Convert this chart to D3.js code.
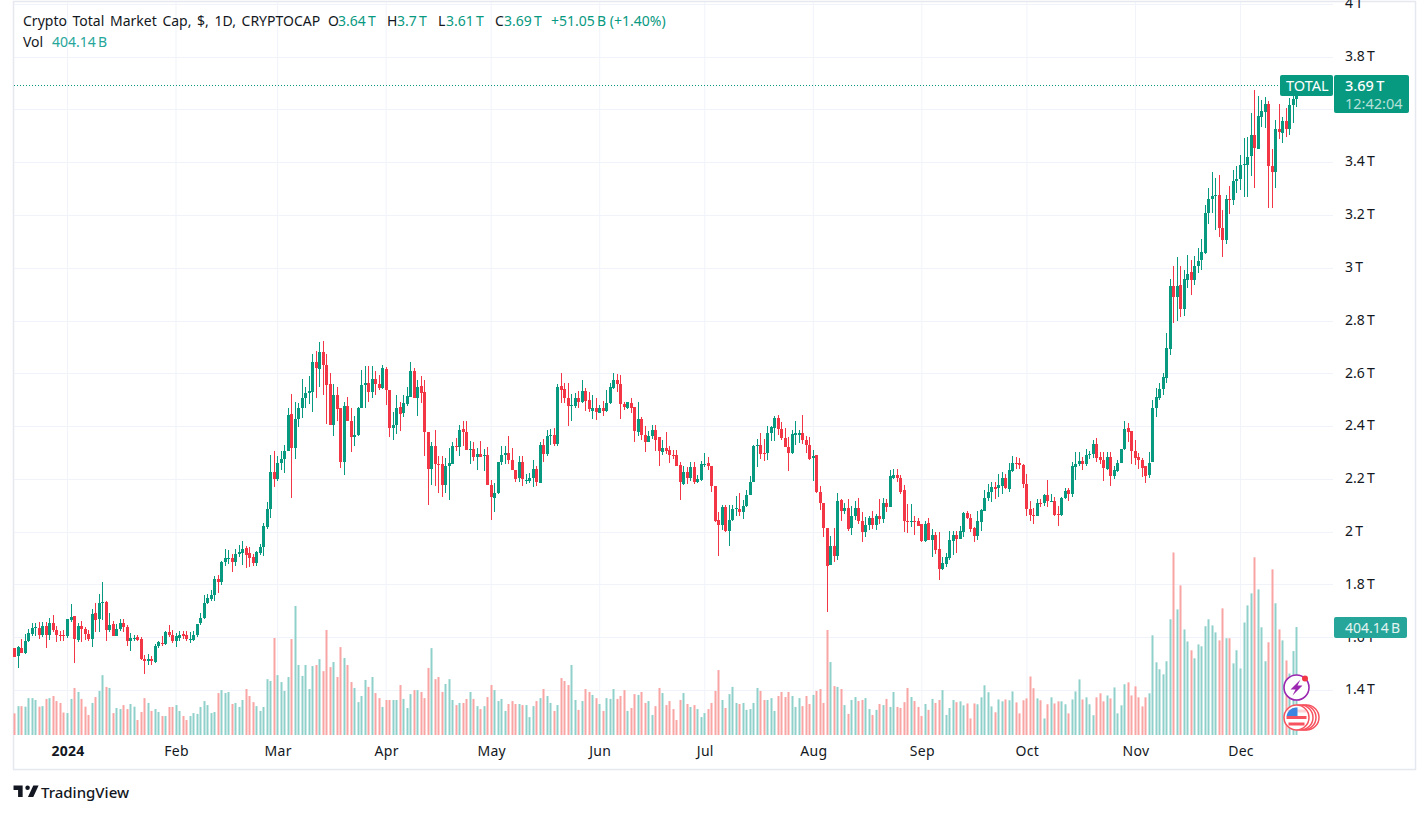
<!DOCTYPE html>
<html>
<head>
<meta charset="utf-8">
<title>Crypto Total Market Cap</title>
<script src="https://cdnjs.cloudflare.com/ajax/libs/d3/7.8.5/d3.min.js"></script>
<style>
html, body { margin: 0; padding: 0; background: #fff; }
svg { display: block; font-family: "Noto Sans", sans-serif; }
</style>
</head>
<body>
<div id="chart"></div>
<script>
// daily candles in trillions, first one is 2023-12-17
var opens = [
1.560,1.527,1.560,1.539,1.587,1.613,1.634,1.635,1.610,1.644,
1.610,1.654,1.628,1.610,1.610,1.603,1.667,1.681,1.591,1.643,
1.633,1.613,1.595,1.692,1.668,1.730,1.734,1.629,1.650,1.603,
1.630,1.654,1.639,1.586,1.592,1.599,1.592,1.517,1.509,1.518,
1.507,1.565,1.579,1.575,1.620,1.608,1.585,1.597,1.611,1.608,
1.589,1.590,1.608,1.653,1.671,1.729,1.745,1.759,1.820,1.811,
1.885,1.898,1.900,1.886,1.914,1.920,1.938,1.918,1.904,1.881,
1.920,1.943,2.016,2.084,2.227,2.201,2.260,2.275,2.304,2.447,
2.317,2.426,2.467,2.506,2.525,2.531,2.643,2.618,2.681,2.632,
2.560,2.406,2.516,2.469,2.263,2.477,2.420,2.357,2.365,2.467,
2.554,2.564,2.530,2.579,2.559,2.546,2.617,2.537,2.391,2.403,
2.472,2.449,2.484,2.512,2.607,2.508,2.553,2.530,2.379,2.237,
2.326,2.256,2.256,2.178,2.250,2.258,2.326,2.319,2.390,2.377,
2.308,2.314,2.281,2.294,2.289,2.292,2.178,2.128,2.147,2.263,
2.290,2.299,2.273,2.235,2.202,2.265,2.191,2.191,2.202,2.239,
2.184,2.329,2.294,2.363,2.367,2.333,2.553,2.541,2.508,2.478,
2.478,2.508,2.490,2.534,2.500,2.459,2.469,2.450,2.469,2.458,
2.486,2.545,2.575,2.560,2.484,2.469,2.487,2.471,2.379,2.428,
2.367,2.339,2.362,2.386,2.357,2.303,2.318,2.310,2.292,2.292,
2.254,2.179,2.227,2.202,2.244,2.189,2.196,2.254,2.261,2.250,
2.174,2.046,2.024,2.095,2.002,2.043,2.086,2.087,2.073,2.096,
2.138,2.189,2.326,2.329,2.299,2.297,2.374,2.394,2.432,2.389,
2.356,2.321,2.297,2.367,2.366,2.375,2.348,2.329,2.278,2.289,
2.152,2.110,2.012,1.873,1.944,1.907,2.121,2.078,2.089,2.012,
2.060,2.088,2.042,1.997,2.025,2.050,2.025,2.060,2.047,2.108,
2.093,2.205,2.216,2.205,2.156,2.042,2.040,2.041,2.040,2.030,
1.963,2.031,1.969,1.987,1.936,1.858,1.877,1.900,1.964,1.989,
1.972,1.998,2.070,2.052,2.012,1.983,2.037,2.080,2.127,2.150,
2.171,2.165,2.174,2.205,2.163,2.229,2.262,2.259,2.254,2.179,
2.087,2.065,2.061,2.110,2.109,2.137,2.116,2.118,2.068,2.063,
2.127,2.156,2.143,2.244,2.255,2.269,2.255,2.293,2.295,2.334,
2.281,2.272,2.239,2.281,2.210,2.229,2.261,2.312,2.393,2.383,
2.305,2.284,2.273,2.247,2.214,2.263,2.469,2.508,2.539,2.584,
2.693,2.930,2.891,2.934,2.843,2.954,2.983,2.955,3.005,3.028,
3.056,3.206,3.260,3.271,3.276,3.152,3.106,3.261,3.256,3.328,
3.336,3.390,3.391,3.424,3.503,3.450,3.573,3.592,3.622,3.386,
3.362,3.526,3.512,3.556,3.527,3.616,3.64];
var highs = [
1.560,1.568,1.592,1.613,1.633,1.654,1.653,1.658,1.658,1.658,
1.672,1.684,1.643,1.625,1.628,1.669,1.726,1.681,1.653,1.661,
1.638,1.628,1.706,1.729,1.764,1.808,1.737,1.691,1.662,1.650,
1.668,1.668,1.647,1.615,1.608,1.609,1.600,1.533,1.537,1.529,
1.575,1.586,1.605,1.624,1.647,1.628,1.615,1.623,1.623,1.625,
1.621,1.623,1.650,1.692,1.761,1.764,1.779,1.832,1.837,1.890,
1.933,1.930,1.915,1.935,1.951,1.964,1.945,1.941,1.917,1.925,
1.953,2.031,2.114,2.291,2.307,2.288,2.304,2.329,2.468,2.522,
2.490,2.487,2.579,2.550,2.588,2.674,2.686,2.717,2.724,2.674,
2.600,2.560,2.550,2.469,2.490,2.512,2.468,2.439,2.472,2.611,
2.628,2.626,2.626,2.607,2.594,2.630,2.623,2.537,2.453,2.519,
2.493,2.519,2.548,2.642,2.622,2.573,2.588,2.575,2.379,2.338,
2.384,2.288,2.288,2.279,2.317,2.338,2.355,2.405,2.421,2.421,
2.342,2.338,2.317,2.342,2.313,2.321,2.197,2.184,2.265,2.323,
2.323,2.363,2.317,2.235,2.285,2.288,2.220,2.222,2.270,2.250,
2.338,2.351,2.386,2.389,2.392,2.560,2.603,2.565,2.565,2.522,
2.525,2.534,2.575,2.544,2.531,2.519,2.508,2.481,2.496,2.537,
2.565,2.603,2.598,2.594,2.491,2.493,2.508,2.471,2.490,2.434,
2.399,2.380,2.403,2.405,2.357,2.348,2.376,2.326,2.308,2.308,
2.263,2.250,2.245,2.264,2.263,2.216,2.266,2.298,2.284,2.250,
2.174,2.073,2.102,2.102,2.102,2.102,2.136,2.147,2.121,2.159,
2.212,2.329,2.351,2.374,2.351,2.401,2.401,2.439,2.443,2.415,
2.392,2.358,2.384,2.420,2.384,2.443,2.361,2.358,2.308,2.292,
2.174,2.110,2.012,1.985,2.012,2.147,2.124,2.109,2.124,2.099,
2.118,2.128,2.074,2.055,2.061,2.080,2.068,2.122,2.128,2.124,
2.235,2.239,2.239,2.213,2.175,2.105,2.103,2.061,2.052,2.030,
2.040,2.052,2.011,1.998,1.999,1.904,1.920,2.002,2.002,2.002,
2.020,2.074,2.078,2.068,2.017,2.078,2.084,2.158,2.181,2.187,
2.187,2.219,2.225,2.219,2.261,2.286,2.282,2.279,2.257,2.219,
2.118,2.090,2.124,2.124,2.143,2.194,2.143,2.133,2.099,2.131,
2.166,2.166,2.263,2.301,2.301,2.282,2.313,2.307,2.348,2.355,
2.301,2.301,2.301,2.301,2.247,2.272,2.315,2.421,2.412,2.383,
2.349,2.297,2.279,2.247,2.301,2.499,2.543,2.565,2.603,2.754,
2.956,3.006,3.039,3.005,2.993,3.048,3.029,3.043,3.075,3.109,
3.239,3.302,3.361,3.339,3.352,3.220,3.276,3.308,3.371,3.386,
3.428,3.493,3.497,3.588,3.674,3.651,3.636,3.648,3.630,3.449,
3.558,3.621,3.570,3.604,3.642,3.674,3.70];
var lows = [
1.524,1.485,1.539,1.536,1.582,1.603,1.603,1.595,1.600,1.560,
1.589,1.620,1.580,1.585,1.587,1.597,1.659,1.504,1.582,1.581,
1.589,1.586,1.562,1.620,1.620,1.666,1.587,1.621,1.603,1.603,
1.624,1.621,1.565,1.547,1.586,1.586,1.514,1.459,1.493,1.493,
1.504,1.558,1.567,1.572,1.600,1.577,1.562,1.587,1.595,1.586,
1.577,1.587,1.600,1.647,1.669,1.724,1.737,1.739,1.769,1.798,
1.870,1.877,1.848,1.871,1.905,1.874,1.864,1.867,1.870,1.870,
1.911,1.908,2.011,2.051,2.168,2.191,2.232,2.222,2.304,2.128,
2.275,2.396,2.430,2.468,2.484,2.455,2.508,2.550,2.517,2.409,
2.406,2.361,2.421,2.240,2.213,2.418,2.300,2.326,2.361,2.467,
2.467,2.493,2.507,2.519,2.537,2.540,2.481,2.357,2.346,2.371,
2.380,2.434,2.477,2.510,2.508,2.439,2.487,2.285,2.100,2.176,
2.172,2.147,2.130,2.147,2.119,2.258,2.304,2.285,2.323,2.308,
2.256,2.266,2.235,2.283,2.228,2.176,2.043,2.073,2.144,2.254,
2.256,2.256,2.235,2.187,2.187,2.172,2.182,2.184,2.169,2.172,
2.184,2.263,2.285,2.329,2.323,2.323,2.487,2.487,2.399,2.418,
2.468,2.468,2.487,2.459,2.455,2.428,2.424,2.449,2.440,2.455,
2.484,2.540,2.531,2.428,2.462,2.464,2.449,2.338,2.361,2.348,
2.300,2.338,2.352,2.304,2.247,2.289,2.293,2.260,2.275,2.247,
2.119,2.177,2.182,2.191,2.182,2.184,2.191,2.245,2.235,2.149,
2.038,1.907,2.008,1.998,1.945,2.041,2.058,2.058,2.048,2.094,
2.138,2.187,2.244,2.275,2.266,2.273,2.342,2.342,2.367,2.348,
2.319,2.229,2.295,2.329,2.336,2.333,2.298,2.273,2.191,2.147,
2.081,1.979,1.695,1.873,1.885,1.894,2.040,2.068,2.002,1.987,
2.045,2.030,1.960,1.979,2.007,2.011,2.005,2.030,2.032,2.074,
2.093,2.200,2.187,2.143,1.998,1.994,2.017,1.987,2.020,1.962,
1.960,1.967,1.904,1.914,1.818,1.853,1.866,1.891,1.910,1.919,
1.972,1.979,2.049,1.998,1.960,1.967,2.002,2.078,2.118,2.112,
2.124,2.133,2.143,2.162,2.150,2.225,2.238,2.238,2.165,2.061,
2.040,2.030,2.058,2.093,2.098,2.095,2.114,2.059,2.020,2.058,
2.124,2.118,2.131,2.196,2.250,2.232,2.250,2.276,2.279,2.263,
2.257,2.191,2.232,2.172,2.200,2.225,2.259,2.310,2.339,2.257,
2.254,2.238,2.206,2.185,2.204,2.263,2.436,2.499,2.518,2.565,
2.669,2.792,2.799,2.813,2.817,2.925,2.896,2.934,2.98,2.993,
3.053,3.167,3.207,3.144,3.115,3.041,3.089,3.205,3.239,3.283,
3.295,3.268,3.268,3.346,3.302,3.450,3.535,3.529,3.226,3.226,
3.304,3.487,3.472,3.495,3.503,3.550,3.61];
var closes = [
1.524,1.563,1.542,1.586,1.615,1.635,1.639,1.610,1.644,1.610,
1.654,1.628,1.608,1.608,1.608,1.669,1.677,1.595,1.643,1.633,
1.613,1.595,1.688,1.666,1.730,1.734,1.629,1.645,1.603,1.633,
1.654,1.638,1.586,1.597,1.597,1.589,1.517,1.509,1.517,1.509,
1.567,1.581,1.576,1.620,1.608,1.585,1.603,1.608,1.603,1.594,
1.594,1.608,1.650,1.673,1.730,1.748,1.759,1.820,1.811,1.885,
1.900,1.900,1.886,1.914,1.923,1.933,1.913,1.901,1.882,1.923,
1.940,2.020,2.084,2.225,2.201,2.261,2.275,2.307,2.443,2.317,
2.426,2.469,2.507,2.526,2.534,2.643,2.619,2.681,2.632,2.556,
2.406,2.516,2.464,2.263,2.478,2.418,2.357,2.367,2.468,2.556,
2.564,2.531,2.579,2.559,2.546,2.622,2.536,2.391,2.405,2.468,
2.445,2.487,2.515,2.607,2.508,2.550,2.527,2.377,2.237,2.326,
2.256,2.255,2.178,2.250,2.260,2.326,2.319,2.384,2.377,2.308,
2.314,2.281,2.294,2.283,2.292,2.176,2.130,2.148,2.265,2.292,
2.299,2.270,2.235,2.201,2.265,2.201,2.194,2.203,2.237,2.187,
2.329,2.294,2.363,2.367,2.333,2.550,2.537,2.506,2.478,2.481,
2.508,2.490,2.534,2.496,2.466,2.469,2.452,2.469,2.459,2.488,
2.548,2.575,2.559,2.482,2.471,2.490,2.467,2.380,2.428,2.366,
2.341,2.363,2.386,2.346,2.304,2.318,2.307,2.289,2.289,2.250,
2.187,2.227,2.203,2.244,2.188,2.200,2.258,2.258,2.247,2.172,
2.041,2.024,2.095,2.002,2.046,2.087,2.089,2.073,2.099,2.140,
2.189,2.326,2.328,2.295,2.297,2.374,2.396,2.430,2.389,2.353,
2.319,2.297,2.371,2.372,2.375,2.347,2.328,2.276,2.288,2.149,
2.107,2.014,1.869,1.944,1.907,2.118,2.078,2.089,2.010,2.061,
2.088,2.040,1.997,2.027,2.050,2.025,2.060,2.047,2.108,2.093,
2.209,2.216,2.203,2.152,2.040,2.040,2.042,2.036,2.023,1.963,
2.030,1.969,1.987,1.930,1.858,1.880,1.904,1.967,1.989,1.972,
2.001,2.070,2.052,2.010,1.983,2.040,2.081,2.128,2.152,2.171,
2.162,2.176,2.205,2.165,2.232,2.262,2.259,2.254,2.180,2.085,
2.063,2.061,2.109,2.108,2.137,2.116,2.118,2.065,2.063,2.128,
2.153,2.142,2.247,2.257,2.269,2.257,2.292,2.296,2.334,2.279,
2.272,2.240,2.281,2.210,2.233,2.262,2.315,2.390,2.377,2.305,
2.279,2.271,2.243,2.211,2.262,2.468,2.510,2.541,2.587,2.695,
2.930,2.891,2.930,2.845,2.956,2.978,2.953,3.008,3.027,3.058,
3.208,3.261,3.273,3.276,3.150,3.107,3.261,3.256,3.329,3.337,
3.390,3.394,3.420,3.503,3.452,3.575,3.594,3.621,3.387,3.362,
3.526,3.513,3.556,3.527,3.617,3.638,3.69];
// volume in billions
var volumes = [
81,108,108,106,138,138,131,106,108,135,
138,146,127,120,84,82,135,176,161,135,
106,75,120,142,165,224,180,176,82,101,
97,112,97,116,106,56,86,138,120,90,
97,86,71,71,105,105,112,90,71,56,
71,82,79,105,127,112,82,86,157,168,
157,161,116,120,105,131,172,146,123,108,
90,105,209,202,363,224,198,165,217,359,
483,262,221,262,172,258,262,284,239,393,
254,273,217,329,288,262,198,176,123,146,
206,180,217,157,138,105,131,131,131,131,
187,135,101,153,168,168,161,138,251,325,
209,217,161,191,209,131,112,120,120,135,
161,135,108,97,108,142,187,168,127,135,
90,116,127,116,116,112,112,67,108,127,
138,172,146,120,90,112,213,202,187,262,
131,94,127,172,161,150,138,116,90,138,
135,172,135,146,168,90,101,153,150,161,
120,127,75,108,176,157,112,127,97,56,
131,157,116,105,112,97,67,82,97,120,
165,243,131,101,153,180,120,116,120,94,
97,120,176,165,131,131,138,90,146,161,
142,161,146,105,138,108,146,116,150,165,
172,120,393,273,183,180,172,112,79,131,
142,127,131,138,97,75,94,116,112,135,
105,161,105,101,123,176,142,127,105,71,
116,94,135,120,131,168,75,101,131,123,
126,111,118,62,118,115,141,186,160,107,
85,133,126,133,130,163,122,81,130,137,
219,175,137,130,62,115,141,118,126,126,
115,81,133,163,208,133,141,115,74,141,
156,126,148,137,178,81,111,190,197,148,
182,141,107,141,156,373,272,246,227,276,
433,683,470,560,395,350,317,287,339,332,
407,433,410,384,354,474,362,362,268,317,
249,421,485,530,665,545,403,276,347,620,
493,395,354,279,230,314,404.14];

var gridTicks = [1.4,1.6,1.8,2,2.2,2.4,2.6,2.8,3,3.2,3.4,3.6,3.8,4];
// 3.6T sits under the price tag in the picture, so it gets a grid line but no label
var priceLabels = [1.4,1.6,1.8,2,2.2,2.4,2.6,2.8,3,3.2,3.4,3.8,4];
var monthStarts = ['2024-01-01','2024-02-01','2024-03-01','2024-04-01','2024-05-01','2024-06-01','2024-07-01','2024-08-01','2024-09-01','2024-10-01','2024-11-01','2024-12-01'];
var monthLabels = ['2024','Feb','Mar','Apr','May','Jun','Jul','Aug','Sep','Oct','Nov','Dec'];

var upColor = '#089981', downColor = '#f23645';
var volUp = '#8fd1ca', volDown = '#f8a5a3';
var gridColor = '#f0f3fa', textColor = '#131722', borderColor = '#e6e8f0';
var thin = '\u202f';

var width = 1428, height = 814;
var firstDay = new Date(Date.UTC(2023,11,17));
var tickDates = monthStarts.map(function (s) { return new Date(s + 'T00:00:00Z'); });

var x = d3.scaleUtc()
	.domain([tickDates[0], tickDates[11]])
	.range([67.5, 1240.5]);
var y = d3.scaleLinear()
	.domain([1.4, 3.6])
	.range([690, 109.4]);
var yVol = d3.scaleLinear()
	.domain([0, 404.14])
	.range([735, 627]);

var candles = opens.map(function (o, i) {
	return {
		date: d3.utcDay.offset(firstDay, i),
		open: o, high: highs[i], low: lows[i], close: closes[i], vol: volumes[i],
		up: closes[i] >= o
	};
});

var svg = d3.select('#chart').append('svg')
	.attr('width', width)
	.attr('height', height);

svg.append('rect')
	.attr('width', width).attr('height', height)
	.attr('fill', '#fff');

// frame
svg.append('rect')
	.attr('x', 13.5).attr('y', 1.5)
	.attr('width', 1402).attr('height', 768)
	.attr('fill', 'none')
	.attr('stroke', borderColor)
	.attr('stroke-width', 1.5);

// grid
svg.append('g').selectAll('line')
	.data(gridTicks)
	.enter().append('line')
	.attr('x1', 14).attr('x2', 1333)
	.attr('y1', function (d) { return Math.round(y(d)) + 0.5; })
	.attr('y2', function (d) { return Math.round(y(d)) + 0.5; })
	.attr('stroke', gridColor);
svg.append('g').selectAll('line')
	.data(tickDates)
	.enter().append('line')
	.attr('x1', function (d) { return x(d); })
	.attr('x2', function (d) { return x(d); })
	.attr('y1', 2).attr('y2', 735)
	.attr('stroke', gridColor);

// volume
svg.append('g').selectAll('rect')
	.data(candles)
	.enter().append('rect')
	.attr('x', function (d) { return Math.floor(x(d.date)) - 0.5; })
	.attr('width', 2)
	.attr('y', function (d) { return yVol(d.vol); })
	.attr('height', function (d) { return 735 - yVol(d.vol); })
	.attr('fill', function (d) { return d.up ? volUp : volDown; });

// last price line
svg.append('line')
	.attr('x1', 14).attr('x2', 1280)
	.attr('y1', Math.floor(y(closes[closes.length - 1])) + 0.5)
	.attr('y2', Math.floor(y(closes[closes.length - 1])) + 0.5)
	.attr('stroke', upColor)
	.attr('stroke-dasharray', '1 2');

// candles
var candle = svg.append('g').attr('shape-rendering', 'crispEdges')
	.selectAll('g')
	.data(candles)
	.enter().append('g')
	.attr('fill', function (d) { return d.up ? upColor : downColor; });
candle.append('rect')
	.attr('x', function (d) { return Math.floor(x(d.date)); })
	.attr('width', 1)
	.attr('y', function (d) { return y(d.high); })
	.attr('height', function (d) { return y(d.low) - y(d.high); });
candle.append('rect')
	.attr('x', function (d) { return Math.floor(x(d.date)) - 1; })
	.attr('width', 3)
	.attr('y', function (d) { return y(Math.max(d.open, d.close)); })
	.attr('height', function (d) { return Math.max(1, Math.abs(y(d.open) - y(d.close))); });

// axes
var priceAxis = d3.axisRight(y)
	.tickValues(priceLabels)
	.tickSize(0)
	.tickPadding(0)
	.tickFormat(function (d) { return d + thin + 'T'; });
var gy = svg.append('g')
	.attr('transform', 'translate(1345,-0.7)')
	.call(priceAxis);
gy.select('.domain').remove();
gy.selectAll('text')
	.attr('fill', textColor)
	.style('font-size', '14px')
	.style('font-family', '"Noto Sans", sans-serif');

var timeAxis = d3.axisBottom(x)
	.tickValues(tickDates)
	.tickSize(0)
	.tickPadding(0)
	.tickFormat(function (d, i) { return monthLabels[i]; });
var gx = svg.append('g')
	.attr('transform', 'translate(0,746.5)')
	.call(timeAxis);
gx.select('.domain').remove();
gx.selectAll('text')
	.attr('fill', textColor)
	.style('font-size', '14px')
	.style('letter-spacing', '0.3px')
	.style('font-family', '"Noto Sans", sans-serif')
	.style('font-weight', function (d, i) { return i == 0 ? 700 : 400; });

// legend
function label(x0, y0, s, color, size) {
	return svg.append('text')
		.attr('x', x0).attr('y', y0)
		.attr('fill', color)
		.style('font-size', (size || 14) + 'px')
		.text(s);
}
label(23, 26, 'Crypto Total Market Cap, $, 1D, CRYPTOCAP', textColor)
	.style('word-spacing', '2px');
label(328, 26, 'O', textColor);
label(338, 26, '3.64' + thin + 'T', upColor);
label(387, 26, 'H', textColor);
label(397, 26, '3.7' + thin + 'T', upColor);
label(438, 26, 'L', textColor);
label(446, 26, '3.61' + thin + 'T', upColor);
label(495, 26, 'C', textColor);
label(504, 26, '3.69' + thin + 'T', upColor);
label(551, 26, '+51.05' + thin + 'B (+1.40%)', upColor);
label(23, 47, 'Vol', textColor);
label(52, 47, '404.14' + thin + 'B', '#26a69a');

// price tags on the right
svg.append('rect')
	.attr('x', 1280).attr('y', 75)
	.attr('width', 53).attr('height', 21)
	.attr('rx', 2)
	.attr('fill', upColor);
label(1286, 90.5, 'TOTAL', '#fff', 14.5);
svg.append('rect')
	.attr('x', 1334).attr('y', 75)
	.attr('width', 75).attr('height', 38)
	.attr('rx', 2)
	.attr('fill', upColor);
label(1345, 90.5, '3.69' + thin + 'T', '#fff', 14.5).style('font-weight', 500);
label(1345, 108.5, '12:42:04', '#b5e0d8', 14.5);
svg.append('rect')
	.attr('x', 1334).attr('y', 617)
	.attr('width', 73).attr('height', 21)
	.attr('rx', 2)
	.attr('fill', '#26a69a');
label(1345, 632.5, '404.14' + thin + 'B', '#e3f3f1', 14);

// event icons
var flash = svg.append('g').attr('transform', 'translate(1296.5,687.5)');
flash.append('circle')
	.attr('r', 12.5)
	.attr('fill', '#fff')
	.attr('stroke', '#9c27b0')
	.attr('stroke-width', 1.6);
flash.append('path')
	.attr('d', 'M4 -8 L-6 2 L-1 2 L-4 8 L6 -2 L1 -2 Z')
	.attr('fill', '#9c27b0');
flash.append('circle')
	.attr('cx', 8.5).attr('cy', -9)
	.attr('r', 3)
	.attr('fill', downColor);

var flag = svg.append('g').attr('transform', 'translate(1296.5,717.5)');
flag.selectAll('circle.ring')
	.data([10, 7, 4, 0])
	.enter().append('circle')
	.attr('class', 'ring')
	.attr('cx', function (d) { return d; })
	.attr('r', 12.5)
	.attr('fill', '#fff')
	.attr('stroke', '#f7525f')
	.attr('stroke-width', 1.5);
flag.append('rect').attr('x', -9).attr('y', -8).attr('width', 19).attr('height', 3).attr('fill', '#f7525f').attr('opacity', 0.25);
flag.append('rect').attr('x', -10).attr('y', -1.5).attr('width', 20).attr('height', 3).attr('fill', '#f7525f');
flag.append('rect').attr('x', -8).attr('y', 5).attr('width', 16).attr('height', 3).attr('fill', '#f7525f');
flag.append('path')
	.attr('d', 'M-10 -1.5 A10 10 0 0 1 -1 -10 L1 -10 L1 -1.5 Z')
	.attr('fill', '#3d85e0');

// TradingView mark
svg.append('path')
	.attr('d', 'M14 6H2v6h6v9h6V6zm14 15h-7l7-15h7l-7 15zm-7.5-9a3 3 0 1 0 0-6 3 3 0 0 0 0 6z')
	.attr('transform', 'translate(12,781) scale(0.76)')
	.attr('fill', textColor);
label(41, 798, 'TradingView', textColor, 15).style('font-weight', 500);
</script>
</body>
</html>
